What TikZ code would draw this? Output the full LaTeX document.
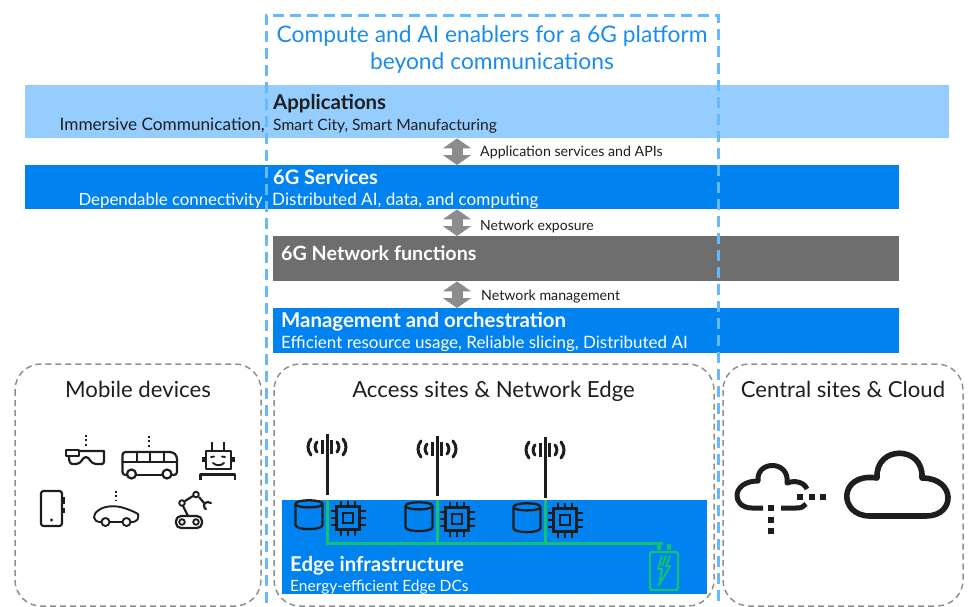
\documentclass[tikz,border=0pt]{standalone}
\usepackage{fontspec}
\setmainfont{Lato}
\usetikzlibrary{arrows.meta}
\definecolor{sixblue}{HTML}{0082F0}
\definecolor{lightb}{HTML}{95CDFF}
\definecolor{framec}{HTML}{66B9FF}
\definecolor{titlec}{HTML}{1A8CF0}
\definecolor{netgray}{HTML}{6E6E6E}
\definecolor{arrgray}{HTML}{8C8C8C}
\definecolor{boxgray}{HTML}{8F8F8F}
\definecolor{ink}{HTML}{1E1E1E}
\definecolor{greenl}{HTML}{0FC373}
\newcommand{\fs}[1]{\fontsize{#1}{#1}\selectfont}
\tikzset{
  band/.style={anchor=north west,inner sep=0pt,minimum height=#1},
  txt/.style={anchor=base west,inner sep=0pt},
  dbl/.style={arrgray,line width=11pt,{Triangle[width=28pt,length=10pt]}-{Triangle[width=28pt,length=10pt]}},
  site/.style={draw=boxgray,line width=1.5pt,dash pattern=on 6pt off 4pt,rounded corners=26pt},
  ico/.style={draw=ink,line width=2.2pt,line cap=round,line join=round},
  thin ico/.style={ico,line width=1.9pt},
  antbar/.style={draw=ink,line width=3pt},
  antpole/.style={draw=ink,line width=3pt},
  dots/.style={draw=ink,line width=2pt,dash pattern=on 2pt off 2.4pt},
  wire/.style={draw=greenl,line width=3pt},
  sq/.style={draw=ink,line width=2.3pt,line join=miter},
}
\newcommand{\cyl}[2]{% centre x, top y
  \begin{scope}[shift={(#1,#2)}]
   \draw[sq] (-13.5,4) .. controls (-13.5,-1) and (13.5,-1) .. (13.5,4) -- (13.5,25) .. controls (13.5,30.5) and (-13.5,30.5) .. (-13.5,25) -- cycle;
   \draw[sq] (-13.5,4) .. controls (-13.5,8.5) and (13.5,8.5) .. (13.5,4);
  \end{scope}}
\newcommand{\chip}[2]{%
  \begin{scope}[shift={(#1,#2)}]
   \draw[sq] (-11.5,-11.5) rectangle (11.5,11.5);
   \draw[sq] (-5,-5) rectangle (5,5);
   \foreach \p in {-7,0,7}{
     \draw[sq,line width=2pt] (\p,-11.5) -- (\p,-17.5);
     \draw[sq,line width=2pt] (\p,11.5) -- (\p,17.5);
     \draw[sq,line width=2pt] (-11.5,\p) -- (-17.5,\p);
     \draw[sq,line width=2pt] (11.5,\p) -- (17.5,\p);
   }
  \end{scope}}
\newcommand{\antenna}[3]{% x, top, bottom
  \draw[antpole] (#1,#2) -- (#1,#3);
  \draw[antbar] (#1-4.5,#2+6) -- (#1-4.5,#2+20);
  \draw[antbar] (#1+4.5,#2+6) -- (#1+4.5,#2+20);
  \draw[antbar,line cap=round] (#1-10,#2+8) .. controls (#1-12.5,#2+11) and (#1-12.5,#2+15) .. (#1-10,#2+18);
  \draw[antbar,line cap=round] (#1+10,#2+8) .. controls (#1+12.5,#2+11) and (#1+12.5,#2+15) .. (#1+10,#2+18);
  \draw[antbar,line cap=round] (#1-16,#2+5) .. controls (#1-20,#2+10) and (#1-20,#2+16) .. (#1-16,#2+21);
  \draw[antbar,line cap=round] (#1+16,#2+5) .. controls (#1+20,#2+10) and (#1+20,#2+16) .. (#1+16,#2+21);
}
\begin{document}
\begin{tikzpicture}[x=1pt,y=-1pt]
\useasboundingbox (0,0) rectangle (968,606);
\clip (0,0) rectangle (968,606);
% bands
\node[band=53pt,fill=lightb,minimum width=924pt] (apps) at (25,85) {};
\node[band=44pt,fill=sixblue,minimum width=874pt] (svc) at (25,165) {};
\node[band=45pt,fill=netgray,minimum width=626pt] (net) at (273,236) {};
\node[band=45pt,fill=sixblue,minimum width=626pt] (mgmt) at (273,308) {};
% site boxes
\draw[site] (15,364) rectangle (261,606);
\draw[site] (274,364) rectangle (714,606);
\draw[site] (723,364) rectangle (963,606);
% frame
\draw[framec,line width=3pt,dash pattern=on 11pt off 6pt] (266,620) -- (266,15) -- (718,15) -- (718,620);
% labels
\node[anchor=base,inner sep=0pt,text=titlec,font=\fs{22.8}] (t1) at (492,42) {Compute and AI enablers for a 6G platform};
\node[anchor=base,inner sep=0pt,text=titlec,font=\fs{22.8}] (t2) at (492,69) {beyond communications};
\node[txt,font=\fs{20.4}\bfseries,text=ink] (a1) at (273,109) {Applications};
\node[txt,font=\fs{15.6},text=ink] (a2) at (273,130) {Smart City, Smart Manufacturing};
\node[anchor=base east,inner sep=0pt,font=\fs{17.2},text=ink] (a3) at (265,130) {Immersive Communication,};
\node[txt,font=\fs{20}\bfseries,text=white] (s1) at (273,184) {6G Services};
\node[txt,font=\fs{17.1},text=white] (s2) at (272,205) {Distributed AI, data, and computing};
\node[anchor=base east,inner sep=0pt,font=\fs{16.8},text=white] (s3) at (263,205) {Dependable connectivity};
\node[txt,font=\fs{19.7}\bfseries,text=white] (n1) at (281,260) {6G Network functions};
\node[txt,font=\fs{20.4}\bfseries,text=white] (m1) at (281,327) {Management and orchestration};
\node[txt,font=\fs{17},text=white] (m2) at (281,348) {Efficient resource usage, Reliable slicing, Distributed AI};
% arrows
\coordinate (ax) at (457,0);
\draw[dbl] (apps.south -| ax) -- (svc.north -| ax);
\draw[dbl] (svc.south -| ax) -- (net.north -| ax);
\draw[dbl] (net.south -| ax) -- (mgmt.north -| ax);
\node[txt,font=\fs{14.2},text=ink] (l1) at (480,156.5) {Application services and APIs};
\node[txt,font=\fs{14},text=ink] (l2) at (480,230) {Network exposure};
\node[txt,font=\fs{14.2},text=ink] (l3) at (481,300) {Network management};
% site titles
\node[anchor=base,inner sep=0pt,font=\fs{22.2},text=ink] (b1) at (138,397) {Mobile devices};
\node[anchor=base,inner sep=0pt,font=\fs{22.2},text=ink] (b2) at (493.5,397) {Access sites \& Network Edge};
\node[anchor=base,inner sep=0pt,font=\fs{22.1},text=ink] (b3) at (843,397) {Central sites \& Cloud};
% edge infrastructure
\node[band=94pt,fill=sixblue,minimum width=425pt] (edge) at (282,500) {};
\node[txt,font=\fs{20.4}\bfseries,text=white] (e1) at (290,571) {Edge infrastructure};
\node[txt,font=\fs{15.5},text=white] (e2) at (290,591) {Energy-efficient Edge DCs};
\antenna{327}{434}{495}
\antenna{437}{436}{496}
\antenna{545}{437}{498}
\draw[wire] (327,500) -- (327,543) -- (663,543);
\draw[wire] (437,500) -- (437,543);
\draw[wire] (545,500) -- (545,543);
\draw[wire,line width=2.4pt,rounded corners=1.5pt] (650,552) rectangle (678,590);
\draw[wire,line width=4pt] (659,544) -- (659,550);
\draw[wire,line width=4pt] (669,544) -- (669,550);
\draw[wire,line width=2pt,line join=round] (662,556) -- (658,569) -- (662,569) -- (659,585) -- (670,566) -- (666,566) -- (670,556);
\draw[wire,line width=2pt] (666,556) -- (662,566);
\cyl{309}{500}\cyl{419}{502}\cyl{527}{503}
\chip{348}{518}\chip{457}{519}\chip{565}{520}
% clouds
\draw[ico,line width=5pt,line cap=butt] (763,508) -- (752,508) .. controls (731,508) and (731,481) .. (758,481) .. controls (756,460) and (790,460) .. (787,483) .. controls (795,480) and (804,482) .. (807,489);
\draw[ico,line width=5pt,line cap=butt] (781,508) -- (796,508) .. controls (801,508) and (804,507) .. (806,504);
\draw[ink,line width=6pt,dash pattern=on 6pt off 5.5pt] (771,505) -- (771,535);
\draw[ink,line width=6pt,dash pattern=on 6pt off 5.5pt] (797,497) -- (827,497);
\draw[ico,line width=5.6pt] (870,516) -- (926,516) .. controls (956,516) and (956,478) .. (922,478) .. controls (924,445) and (875,445) .. (877,478) .. controls (838,472) and (838,516) .. (870,516) -- cycle;
% glasses
\draw[ico] (66,450) rectangle (79,456);
\draw[ico] (79,451) -- (104,451) -- (104,461) .. controls (104,465) and (101,464) .. (96,464) .. controls (90,464) and (90,457) .. (86,457) .. controls (82,457) and (82,464) .. (76,464) .. controls (71,464) and (69,465) .. (69,456);
\draw[dots] (86,435) -- (86,446);
% bus
\draw[ico,rounded corners=3pt] (127,475) -- (122.5,475) -- (122.5,452) -- (173,452) -- (177,456) -- (177,475) -- (172,475);
\draw[ico] (136,475) -- (162,475);
\draw[ico] (122.5,462) -- (177,462);
\foreach \bx in {137,150,164}{\draw[ico] (\bx,452) -- (\bx,462);}
\draw[ico] (131.5,474) circle[radius=4.5];
\draw[ico] (167,474) circle[radius=4.5];
\draw[dots] (149,436) -- (149,447);
% robot face
\draw[ico,line cap=butt] (206,451) rectangle (231,469);
\draw[ico,line cap=butt] (212,442) -- (212,451);
\draw[ico,line cap=butt] (224,442) -- (224,451);
\draw[ico,line cap=butt,line width=3pt] (203,457) -- (203,462);
\draw[ico,line cap=butt,line width=3pt] (233.5,457) -- (233.5,462);
\draw[thin ico] (213,463) .. controls (216,466) and (221,466) .. (224,463);
\draw[thin ico] (211,457) -- (214,456.5);
\draw[thin ico] (222,456.5) -- (225,457);
\draw[ico,line cap=butt] (200.5,480) -- (200.5,474.5) -- (235,474.5) -- (235,480);
% phone
\draw[ico,rounded corners=2.5pt] (41,491) rectangle (62,526);
\draw[ico,line cap=butt,line width=2.4pt] (64,497) -- (64,504);
\draw[ico,line cap=butt,line width=2.4pt] (64,508) -- (64,513);
\fill[ink] (51.5,520) circle[radius=1.7];
% car
\draw[thin ico] (101,522) .. controls (92,522) and (92,514) .. (99,510) .. controls (104,506) and (115,505) .. (124,508) .. controls (130,510) and (135,512) .. (138,514) .. controls (139,518) and (138,522) .. (131,522);
\draw[thin ico] (110,522) -- (122,522);
\draw[thin ico] (105.5,522) circle[radius=4];
\draw[thin ico] (126.5,522) circle[radius=4];
\draw[dots] (116,491) -- (116,500);
% robot arm
\draw[ico,rounded corners=5pt] (176,516) rectangle (202,528);
\draw[thin ico] (182,522) circle[radius=2.8];
\draw[thin ico] (196,522) circle[radius=2.8];
\draw[ico,line cap=butt] (188,516) -- (182.5,505);
\draw[ico,line cap=butt] (185,501) -- (193,496);
\draw[ico,line cap=butt] (199,497) -- (204,503);
\draw[thin ico] (182,503) circle[radius=2.8];
\draw[thin ico] (196,494.5) circle[radius=2.8];
\draw[ico] (211,503) .. controls (207,501) and (204,503) .. (204,505) .. controls (204,508) and (205,509) .. (206,509);
\end{tikzpicture}
\end{document}
